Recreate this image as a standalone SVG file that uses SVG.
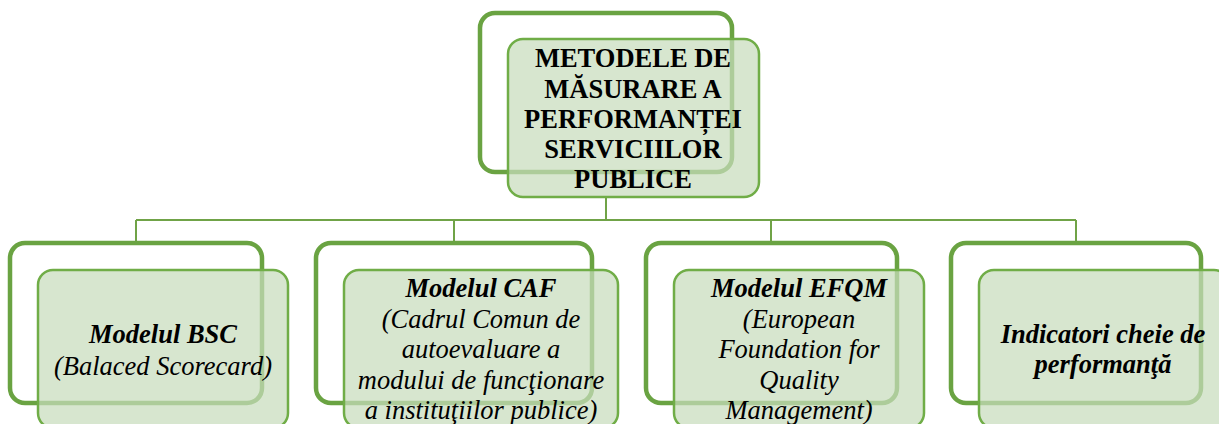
<svg xmlns="http://www.w3.org/2000/svg" width="1219" height="424" viewBox="0 0 1219 424">
<style>
.back{fill:none;stroke:#6AA342;stroke-width:4.5}
.front{fill:#C8DCBC;fill-opacity:0.72;stroke:#70AD47;stroke-width:2.5}
.conn{fill:none;stroke:#70A347;stroke-width:2}
</style>
<rect width="1219" height="424" fill="#fff"/>
<g id="connectors">
<path class="conn" d="M606,197V220M136,220H1076M136,220V243M454,220V243M771,220V243M1076,220V243"/>
</g>
<g id="root">
<rect class="back" x="480" y="13" width="252" height="159" rx="15"/>
<rect class="front" x="508" y="39" width="251" height="158" rx="15"/>
<g font-family="'Liberation Serif', serif" font-size="26.5px" font-weight="bold" text-anchor="middle" fill="#000">
<text x="633" y="67">METODELE DE</text>
<text x="633" y="97.5">MĂSURARE A</text>
<text x="633" y="128">PERFORMANȚEI</text>
<text x="633" y="158">SERVICIILOR</text>
<text x="633" y="188">PUBLICE</text>
</g>
</g>
<g id="bsc">
<rect class="back" x="10" y="243" width="252" height="160" rx="15"/>
<rect class="front" x="38" y="270" width="250" height="158" rx="15"/>
<g font-family="'Liberation Serif', serif" font-size="26.5px" font-style="italic" text-anchor="middle" fill="#000">
<text x="163" y="343" font-weight="bold">Modelul BSC</text>
<text x="163" y="375">(Balaced Scorecard)</text>
</g>
</g>
<g id="caf">
<rect class="back" x="316" y="243" width="276" height="160" rx="15"/>
<rect class="front" x="344" y="270" width="274" height="158" rx="15"/>
<g font-family="'Liberation Serif', serif" font-size="26.5px" font-style="italic" text-anchor="middle" fill="#000">
<text x="481" y="297" font-weight="bold">Modelul CAF</text>
<text x="481" y="328">(Cadrul Comun de</text>
<text x="481" y="358">autoevaluare a</text>
<text x="481" y="389">modului de funcţionare</text>
<text x="481" y="419">a instituţiilor publice)</text>
</g>
</g>
<g id="efqm">
<rect class="back" x="646" y="243" width="251" height="160" rx="15"/>
<rect class="front" x="674" y="270" width="250" height="158" rx="15"/>
<g font-family="'Liberation Serif', serif" font-size="26.5px" font-style="italic" text-anchor="middle" fill="#000">
<text x="799" y="297" font-weight="bold">Modelul EFQM</text>
<text x="799" y="328">(European</text>
<text x="799" y="358">Foundation for</text>
<text x="799" y="389">Quality</text>
<text x="799" y="419">Management)</text>
</g>
</g>
<g id="kpi">
<rect class="back" x="951" y="243" width="250" height="160" rx="15"/>
<rect class="front" x="979" y="270" width="250" height="158" rx="15"/>
<g font-family="'Liberation Serif', serif" font-size="26.5px" font-style="italic" font-weight="bold" text-anchor="middle" fill="#000">
<text x="1103" y="343">Indicatori cheie de</text>
<text x="1103" y="373">performanţă</text>
</g>
</g>
</svg>
